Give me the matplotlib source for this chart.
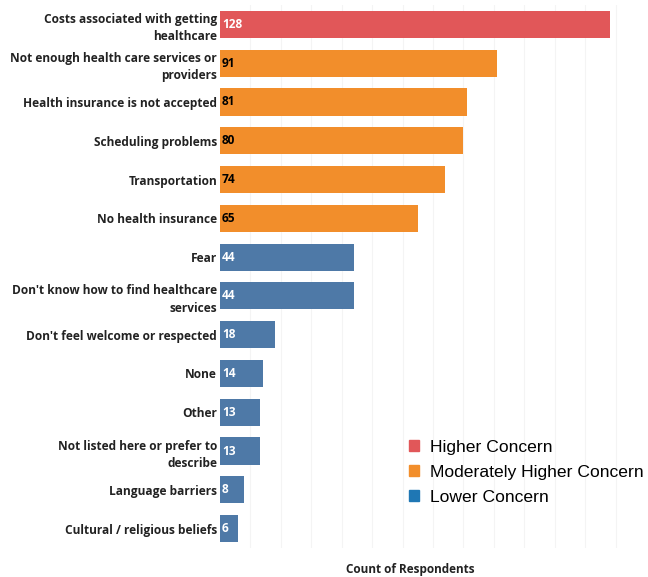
import matplotlib.pyplot as plt
from matplotlib.patches import Patch

# 数据
categories = [
    'Costs associated with getting\nhealthcare',
    'Not enough health care services or\nproviders',
    'Health insurance is not accepted',
    'Scheduling problems',
    'Transportation',
    'No health insurance',
    'Fear',
    "Don't know how to find healthcare\nservices",
    "Don't feel welcome or respected",
    'None',
    'Other',
    'Not listed here or prefer to\ndescribe',
    'Language barriers',
    'Cultural / religious beliefs',
]
counts = [128, 91, 81, 80, 74, 65, 44, 44, 18, 14, 13, 13, 8, 6]
levels = ['Higher', 'Moderate', 'Moderate', 'Moderate', 'Moderate', 'Moderate',
          'Lower', 'Lower', 'Lower', 'Lower', 'Lower', 'Lower', 'Lower', 'Lower']

bar_colors = {'Higher': '#E15759', 'Moderate': '#F28E2B', 'Lower': '#4E79A7'}
text_colors = {'Higher': 'white', 'Moderate': 'black', 'Lower': 'white'}
legend_names = ['Higher Concern', 'Moderately Higher Concern', 'Lower Concern']
legend_colors = ['#E15759', '#F28E2B', '#1F77B4']

fig = plt.figure(figsize=(6.48, 5.77), dpi=100)
ax = fig.add_axes([220 / 648, 1 - 548 / 577, 420 / 648, 543 / 577])

y = list(range(len(categories)))
ax.barh(y, counts, height=0.7, color=[bar_colors[l] for l in levels], zorder=2)
ax.set_ylim(len(categories) - 0.5, -0.5)
ax.set_xlim(0, 138)

# 数值标签
for i, (v, l) in enumerate(zip(counts, levels)):
    ax.text(0.6, i, str(v), va='center', ha='left', fontsize=8.6,
            fontweight='bold', color=text_colors[l], family='Open Sans', zorder=3)

ax.set_yticks(y)
ax.set_yticklabels(categories, fontsize=8.6, fontweight='bold', family='Open Sans',
                   color='#222222', linespacing=1.45)
ax.tick_params(axis='y', length=0, pad=2)
ax.set_xticks(range(10, 140, 10))
ax.tick_params(axis='x', length=0, labelbottom=False)
ax.grid(axis='x', color='#f4f4f4', linewidth=0.8, zorder=0)
for s in ax.spines.values():
    s.set_visible(False)

fig.text(410 / 648, 1 - 569 / 577, 'Count of Respondents', ha='center', va='center',
         fontsize=8.5, fontweight='bold', family='Open Sans', color='#222222')

handles = [Patch(color=c, label=n) for n, c in zip(legend_names, legend_colors)]
fig.legend(handles=handles, loc='upper left', bbox_to_anchor=(393 / 648, 1 - 424 / 577),
           frameon=False, handlelength=0.6, handleheight=0.6, handletextpad=0.6,
           labelspacing=0.58, prop={'family': 'Liberation Sans', 'size': 12.6})

plt.savefig('out.png', dpi=100)
